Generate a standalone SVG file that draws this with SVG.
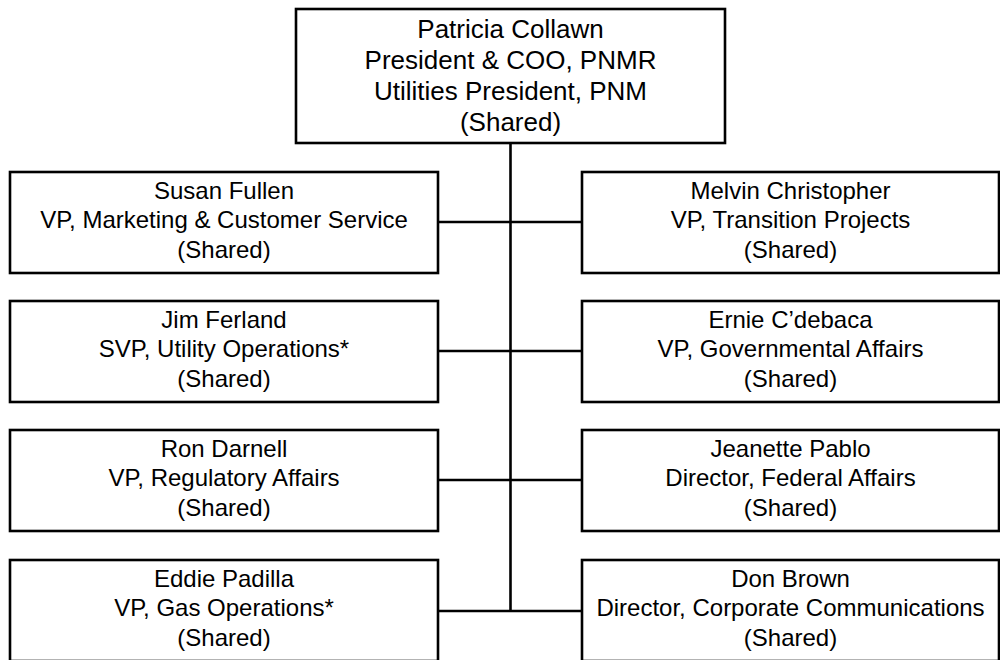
<svg xmlns="http://www.w3.org/2000/svg" width="1000" height="660" viewBox="0 0 1000 660">
<style>
.box{fill:#fff;stroke:#000;stroke-width:2.6}
.t{font-family:"Liberation Sans",Arial,sans-serif;font-size:24px;fill:#000;text-anchor:middle}
.tt{font-size:26px}
.c{stroke:#000;stroke-width:2.6;fill:none}
</style>
<rect width="1000" height="660" fill="#fff"/>
<g id="connectors">
<line class="c" x1="510.5" y1="143" x2="510.5" y2="611"/>
<line class="c" x1="438" y1="222" x2="582" y2="222"/>
<line class="c" x1="438" y1="351" x2="582" y2="351"/>
<line class="c" x1="438" y1="480" x2="582" y2="480"/>
<line class="c" x1="438" y1="611" x2="582" y2="611"/>
</g>
<g id="collawn">
<rect class="box" x="296" y="9" width="429" height="134"/>
<text class="t tt" x="510.5" y="38">Patricia Collawn</text>
<text class="t tt" x="510.5" y="69">President &amp; COO, PNMR</text>
<text class="t tt" x="510.5" y="100">Utilities President, PNM</text>
<text class="t tt" x="510.5" y="131">(Shared)</text>
</g>
<g id="fullen">
<rect class="box" x="10" y="172" width="428" height="101"/>
<text class="t" x="224" y="199">Susan Fullen</text>
<text class="t" x="224" y="228">VP, Marketing &amp; Customer Service</text>
<text class="t" x="224" y="258">(Shared)</text>
</g>
<g id="christopher">
<rect class="box" x="582" y="172" width="417" height="101"/>
<text class="t" x="790.5" y="199">Melvin Christopher</text>
<text class="t" x="790.5" y="228">VP, Transition Projects</text>
<text class="t" x="790.5" y="258">(Shared)</text>
</g>
<g id="ferland">
<rect class="box" x="10" y="301" width="428" height="101"/>
<text class="t" x="224" y="328">Jim Ferland</text>
<text class="t" x="224" y="357">SVP, Utility Operations*</text>
<text class="t" x="224" y="387">(Shared)</text>
</g>
<g id="cdebaca">
<rect class="box" x="582" y="301" width="417" height="101"/>
<text class="t" x="790.5" y="328">Ernie C’debaca</text>
<text class="t" x="790.5" y="357">VP, Governmental Affairs</text>
<text class="t" x="790.5" y="387">(Shared)</text>
</g>
<g id="darnell">
<rect class="box" x="10" y="430" width="428" height="101"/>
<text class="t" x="224" y="457">Ron Darnell</text>
<text class="t" x="224" y="486">VP, Regulatory Affairs</text>
<text class="t" x="224" y="516">(Shared)</text>
</g>
<g id="pablo">
<rect class="box" x="582" y="430" width="417" height="101"/>
<text class="t" x="790.5" y="457">Jeanette Pablo</text>
<text class="t" x="790.5" y="486">Director, Federal Affairs</text>
<text class="t" x="790.5" y="516">(Shared)</text>
</g>
<g id="padilla">
<rect class="box" x="10" y="560" width="428" height="101"/>
<text class="t" x="224" y="587">Eddie Padilla</text>
<text class="t" x="224" y="616">VP, Gas Operations*</text>
<text class="t" x="224" y="646">(Shared)</text>
</g>
<g id="brown">
<rect class="box" x="582" y="560" width="417" height="101"/>
<text class="t" x="790.5" y="587">Don Brown</text>
<text class="t" x="790.5" y="616">Director, Corporate Communications</text>
<text class="t" x="790.5" y="646">(Shared)</text>
</g>
</svg>
